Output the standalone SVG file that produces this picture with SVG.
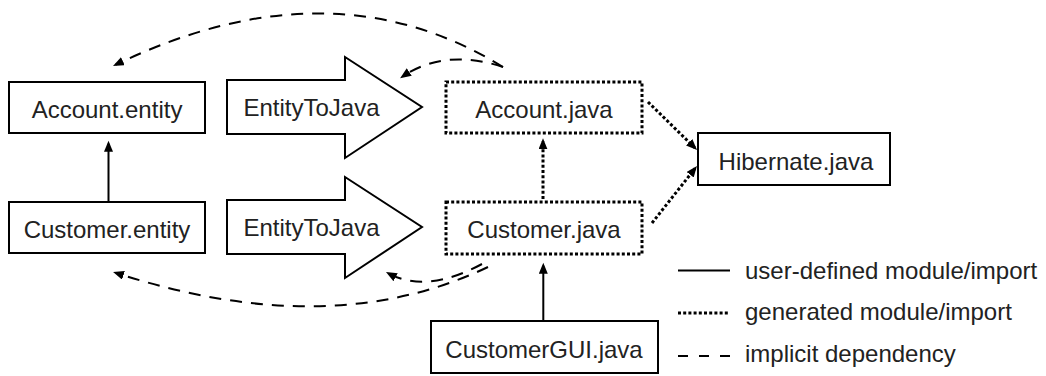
<svg xmlns="http://www.w3.org/2000/svg" width="1046" height="376" viewBox="0 0 1046 376">
<style>
text{font-family:"Liberation Sans",Arial,sans-serif;font-size:24px;fill:#222}
.c{text-anchor:middle}
.box{fill:#fff;stroke:#000;stroke-width:2}
.gen{fill:#fff;stroke:#000;stroke-width:3;stroke-dasharray:3 2.2}
.solid{fill:none;stroke:#000;stroke-width:2}
.dot{fill:none;stroke:#000;stroke-width:3;stroke-dasharray:3 2.2}
.dash{fill:none;stroke:#000;stroke-width:2;stroke-dasharray:12 9}
</style>
<defs>
<marker id="ah" markerUnits="userSpaceOnUse" markerWidth="12" markerHeight="10" refX="8" refY="4.5" orient="auto">
<path d="M0,0 L11,4.5 L0,9 z" fill="#000"/>
</marker>
</defs>
<g id="account-entity"><rect class="box" x="9" y="82" width="196" height="51"/><text class="c" x="107" y="118">Account.entity</text></g>
<g id="customer-entity"><rect class="box" x="9" y="202" width="196" height="51"/><text class="c" x="107" y="238">Customer.entity</text></g>
<g id="transform1"><polygon class="box" points="227,80 345,80 345,57 422,107 345,158 345,134 227,134"/><text class="c" x="311.5" y="116">EntityToJava</text></g>
<g id="transform2"><polygon class="box" points="227,200 345,200 345,177 422,227 345,278 345,254 227,254"/><text class="c" x="311.5" y="236">EntityToJava</text></g>
<g id="account-java"><rect class="gen" x="446" y="82" width="196" height="51"/><text class="c" x="544" y="118">Account.java</text></g>
<g id="customer-java"><rect class="gen" x="446" y="202" width="196" height="52"/><text class="c" x="544" y="238">Customer.java</text></g>
<g id="hibernate-java"><rect class="box" x="698" y="133" width="192" height="52"/><text class="c" x="796" y="170">Hibernate.java</text></g>
<g id="customergui-java"><rect class="box" x="431" y="321" width="227" height="52"/><text class="c" x="544" y="358">CustomerGUI.java</text></g>
<g id="connectors">
<path class="solid" d="M108.5,201 L108.5,143.7" marker-end="url(#ah)"/>
<path class="solid" d="M543.3,320 L543.3,265.7" marker-end="url(#ah)"/>
<path class="dot" d="M543,199 L543,141.3" marker-end="url(#ah)"/>
<path class="dot" d="M648,102 L694.9,147.9" marker-end="url(#ah)"/>
<path class="dot" d="M652,223 L695.1,168.4" marker-end="url(#ah)"/>
<path class="dash" d="M503,67 Q331,-39 115.7,64.7" marker-end="url(#ah)"/>
<path class="dash" d="M503,67 Q445,48 402.6,76.5" marker-end="url(#ah)"/>
<path class="dash" d="M482,264 Q426,294 388.6,273.4" marker-end="url(#ah)"/>
<path class="dash" d="M488,267 Q329.5,342.5 115.9,272.9" marker-end="url(#ah)"/>
</g>
<g id="legend">
<line class="solid" x1="678" y1="270.5" x2="730" y2="270.5"/>
<text x="745" y="278.5">user-defined module/import</text>
<line class="dot" x1="678" y1="313" x2="730" y2="313"/>
<text x="745" y="320">generated module/import</text>
<line class="solid" x1="678" y1="356" x2="730" y2="356" stroke-dasharray="10 11"/>
<text x="745" y="361.5">implicit dependency</text>
</g>
</svg>
